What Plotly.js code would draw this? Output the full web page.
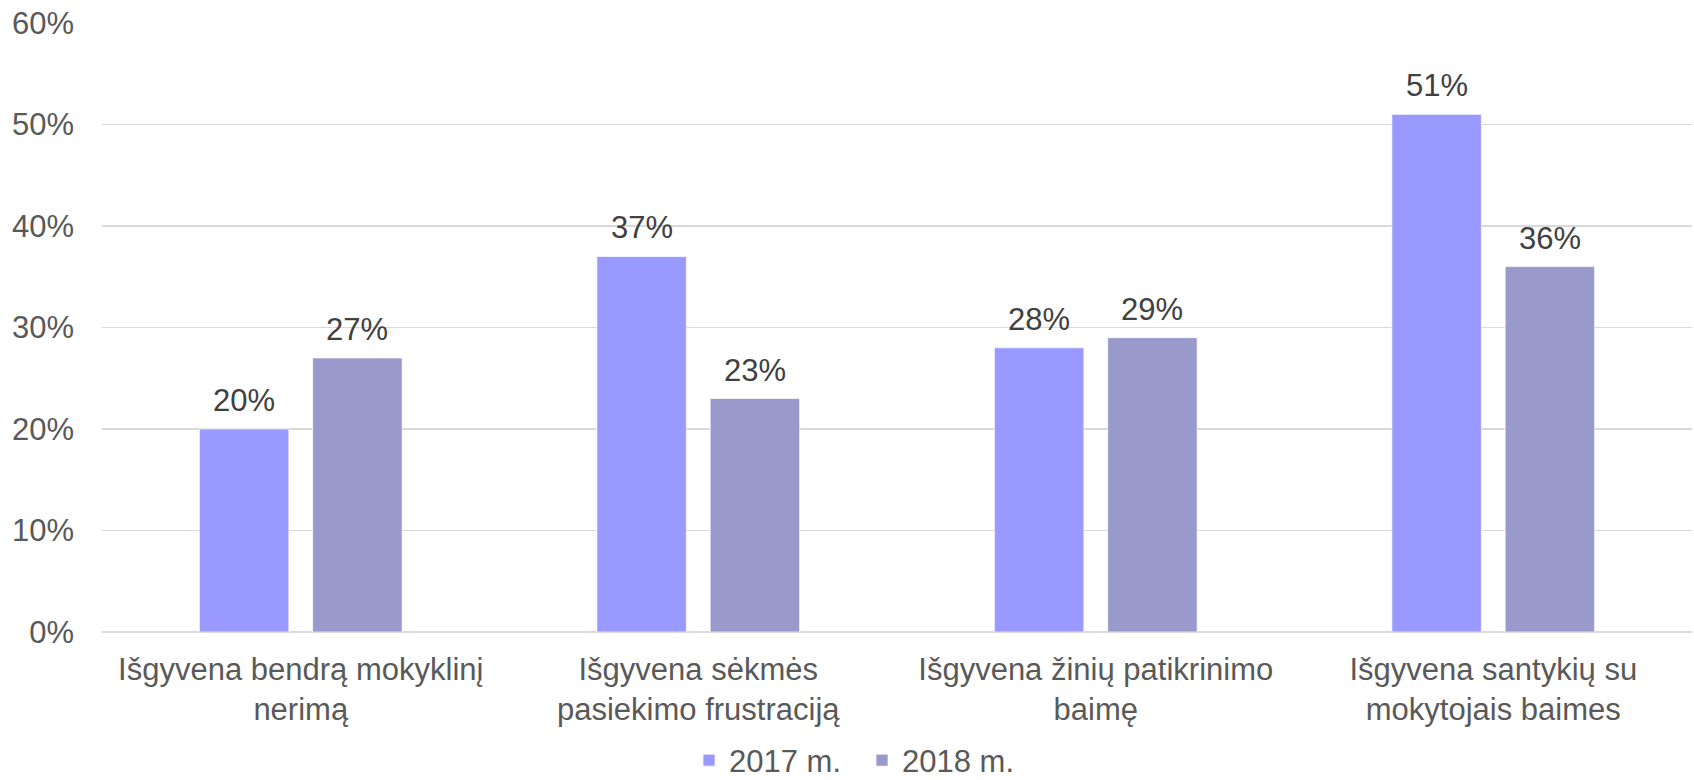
<!DOCTYPE html>
<html>
<head>
<meta charset="utf-8">
<script src="https://cdn.plot.ly/plotly-3.0.1.min.js"></script>
<style>html,body{margin:0;padding:0;background:#fff;}#chart{width:1694px;height:780px;}</style>
</head>
<body>
<div id="chart"></div>
<script>
const categories = [
  "Išgyvena bendrą mokyklinį<br>nerimą",
  "Išgyvena sėkmės<br>pasiekimo frustraciją",
  "Išgyvena žinių patikrinimo<br>baimę",
  "Išgyvena santykių su<br>mokytojais baimes"
];
const series2017 = [20, 37, 28, 51];
const series2018 = [27, 23, 29, 36];
const seriesNames = ["2017 m.", "2018 m."];
const yTickVals = [0, 10, 20, 30, 40, 50, 60];
const yTickText = ["0%", "10%", "20%", "30%", "40%", "50%", "60%"];

const colors = ["#9999FF", "#9999CC"];
const FONT = "Liberation Sans, Arial, sans-serif";
const TXT = "#595959";
const BARGAP = 0.43;

const idx = categories.map((c, i) => i);
const allSeries = [series2017, series2018];

const traces = allSeries.map((vals, s) => ({
  type: "bar",
  name: seriesNames[s],
  x: idx,
  y: vals,
  marker: { color: colors[s], line: { color: "rgba(255,255,255,0.7)", width: 1 } },
  hoverinfo: "skip"
}));

// label annotations above bars, positioned from bar group layout
const slot = (1 - BARGAP) / allSeries.length;
const annotations = [];
allSeries.forEach((vals, s) => {
  vals.forEach((v, i) => {
    annotations.push({
      x: i - (1 - BARGAP) / 2 + slot * (s + 0.5),
      y: v,
      xref: "x", yref: "y",
      text: v + "%",
      showarrow: false,
      yanchor: "bottom",
      yshift: 9,
      font: { family: FONT, size: 31, color: "#404040" }
    });
  });
});

const layout = {
  width: 1694, height: 780,
  margin: { l: 102, r: 2, t: 23, b: 148 },
  paper_bgcolor: "#fff", plot_bgcolor: "#fff",
  barmode: "group",
  bargap: BARGAP,
  bargroupgap: 0.21,
  font: { family: FONT, size: 31, color: TXT },
  xaxis: {
    tickmode: "array", tickvals: idx, ticktext: categories,
    range: [-0.5, categories.length - 0.5],
    showgrid: false, zeroline: false, showline: false, ticks: "",
    tickfont: { family: FONT, size: 31, color: TXT },
    ticklabelstandoff: 16,
    automargin: false
  },
  yaxis: {
    range: [0, 60],
    tickmode: "array", tickvals: yTickVals, ticktext: yTickText,
    showgrid: true, gridcolor: "#d9d9d9", gridwidth: 1.5,
    zeroline: true, zerolinecolor: "#d9d9d9", zerolinewidth: 1.5,
    showline: false, ticks: "",
    tickfont: { family: FONT, size: 31, color: TXT },
    ticklabelstandoff: 27,
    automargin: false
  },
  showlegend: true,
  legend: {
    orientation: "h", x: 0.478, xanchor: "center",
    yref: "container", y: 0.025, yanchor: "middle",
    font: { family: FONT, size: 31, color: TXT },
    itemwidth: 30, entrywidth: 128, traceorder: "normal"
  },
  annotations: annotations
};

Plotly.newPlot("chart", traces, layout, { displayModeBar: false, staticPlot: true });
</script>
</body>
</html>
